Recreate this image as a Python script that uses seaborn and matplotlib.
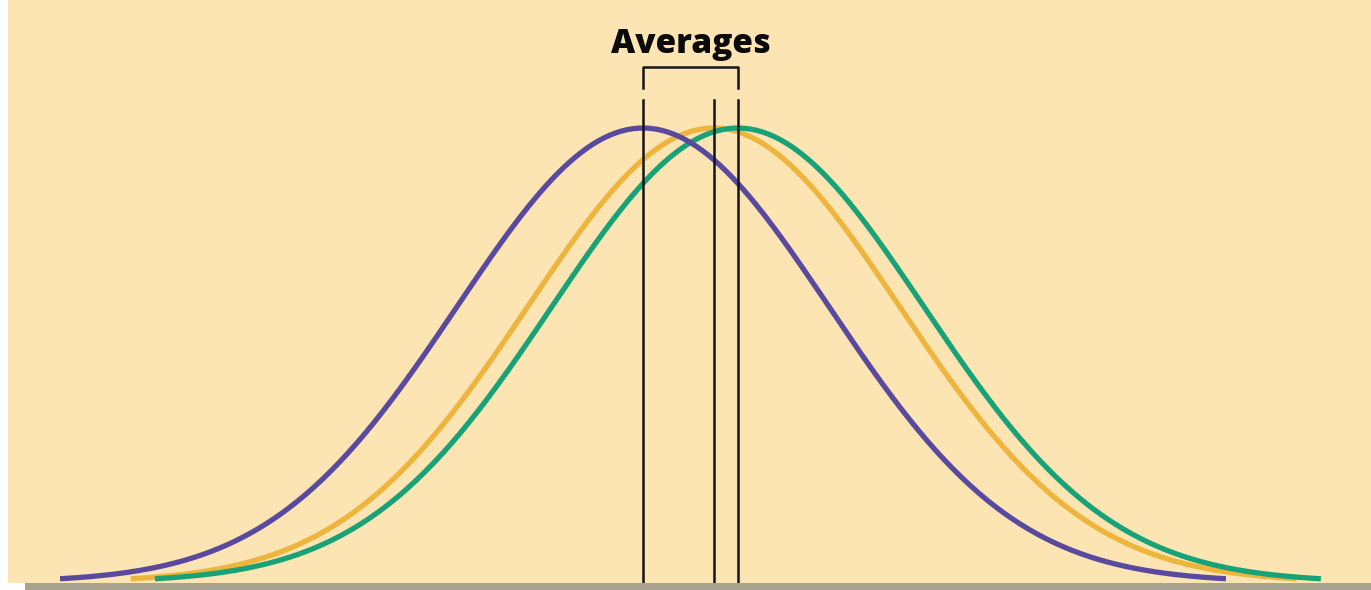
import numpy as np
import pandas as pd
import matplotlib.pyplot as plt
import seaborn as sns
from matplotlib.patches import Rectangle

# Curvas normais (unidades de desvio padrão)
grupos = ['roxo', 'laranja', 'verde']
medias = [0.0, 0.38, 0.51]
desvio = 1.0
limite = 3.12
cores = {'roxo': '#5A4A9F', 'laranja': '#EFB43C', 'verde': '#17A377'}
ordem_desenho = ['laranja', 'verde', 'roxo']
titulo = 'Averages'

fundo = '#FCE4B3'

linhas = []
for g, m in zip(grupos, medias):
    x = np.linspace(m - limite, m + limite, 400)
    y = np.exp(-0.5 * ((x - m) / desvio) ** 2)
    linhas.append(pd.DataFrame({'x': x, 'y': y, 'grupo': g}))
df = pd.concat(linhas, ignore_index=True)

fig = plt.figure(figsize=(13.71, 5.90), dpi=100)
fig.patch.set_facecolor('white')
ax = fig.add_axes([8 / 1371, 7 / 590, 1363 / 1371, 583 / 590])
ax.set_facecolor(fundo)

for i, g in enumerate(ordem_desenho):
    sns.lineplot(data=df[df['grupo'] == g], x='x', y='y', color=cores[g],
                 linewidth=3.8, ax=ax, zorder=3 + i, legend=False)

ax.set_xlim((8 - 643) / 186, (1371 - 643) / 186)
ax.set_ylim(-0.002, 582 / 454)

# Linhas das médias
for m in medias:
    ax.plot([m, m], [0, 1.062], color='#151515', linewidth=1.8, zorder=10)

# Colchete
topo = 1.134
base = 1.088
ax.plot([medias[0], medias[0], medias[2], medias[2]], [base, topo, topo, base],
        color='#151515', linewidth=1.8, zorder=10)
ax.text((medias[0] + medias[2]) / 2, 1.185, titulo, ha='center', va='center',
        fontsize=24, fontweight='heavy', family='Open Sans', color='#0A0A0A')

ax.set_xticks([])
ax.set_yticks([])
ax.set_xlabel('')
ax.set_ylabel('')
for s in ax.spines.values():
    s.set_visible(False)

# Faixa cinza do eixo
fig.patches.append(Rectangle((25 / 1371, 0), 1, 7 / 590, transform=fig.transFigure,
                             facecolor='#A8A38E', edgecolor='none'))

fig.savefig('out.png', dpi=100, facecolor='white')
